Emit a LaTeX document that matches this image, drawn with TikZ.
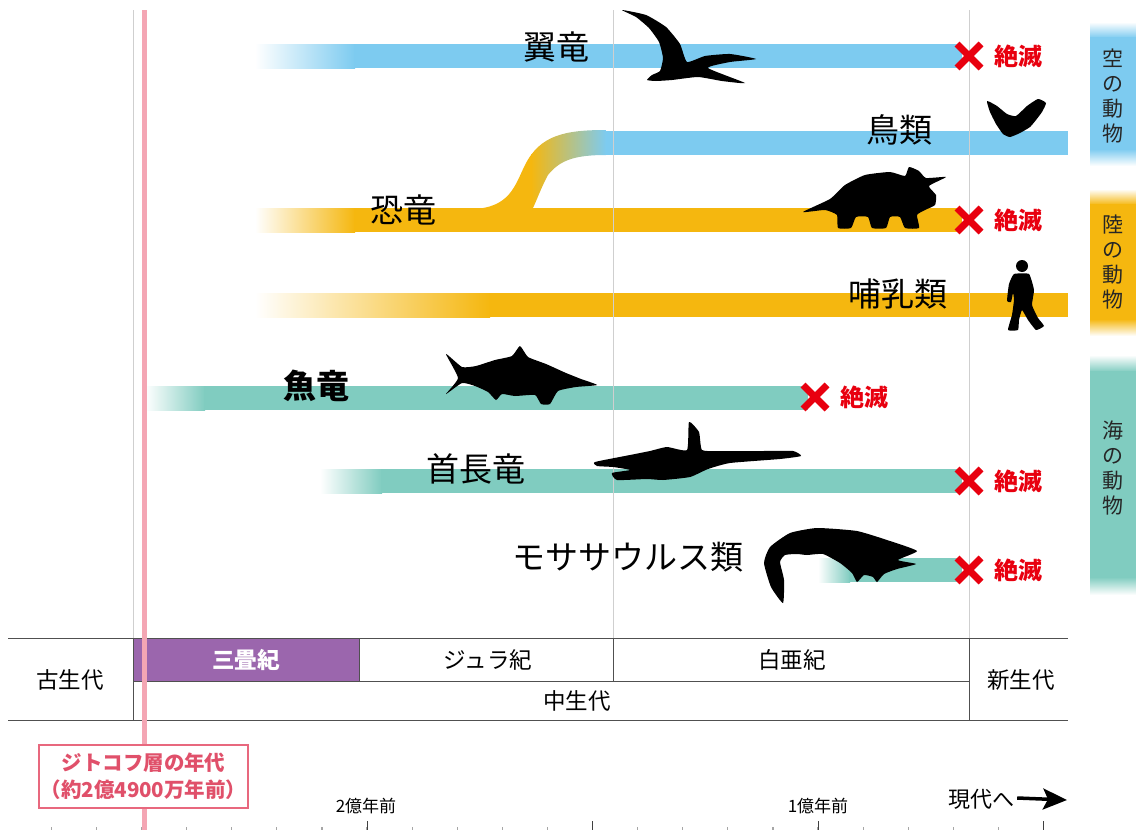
\documentclass[tikz,border=0pt]{standalone}
\usepackage{fontspec}
\setmainfont{Noto Sans CJK JP}
\usetikzlibrary{arrows.meta}
\definecolor{sky}{HTML}{7DCBF0}
\definecolor{land}{HTML}{F5B70F}
\definecolor{sea}{HTML}{80CCC0}
\definecolor{trias}{HTML}{9B66AD}
\definecolor{pinkline}{HTML}{F4A6B4}
\definecolor{pinkbox}{HTML}{E8687E}
\definecolor{pinktext}{HTML}{E0506A}
\definecolor{xred}{HTML}{E8000F}
\definecolor{guide}{HTML}{CFCFCF}
\definecolor{rule}{HTML}{505050}
\tikzset{
  big/.style={inner sep=0pt, font=\fontsize{33}{33}\selectfont},
  bigbold/.style={inner sep=0pt, font=\fontsize{33}{33}\selectfont\bfseries},
  extinct/.style={inner sep=0pt, text=xred, font=\fontsize{24}{24}\selectfont\bfseries},
  xmark/.style={xred, line width=7pt},
  cell/.style={inner sep=0pt, font=\fontsize{22.5}{22.5}\selectfont},
  side/.style={inner sep=0pt, align=center, text=black!85, font=\fontsize{21}{25}\selectfont},
  axislbl/.style={inner sep=0pt, font=\fontsize{17}{17}\selectfont},
  sil/.style={fill=black},
}
\begin{document}
\begin{tikzpicture}[x=1pt,y=-1pt]
\useasboundingbox (0,0) rectangle (1136,830);

% ---- lineage bands ----
% pterosaurs
\shade[left color=white, right color=sky] (255,44) rectangle (355,68);
\fill[sky] (354,44) rectangle (962,68);
% birds
\fill[sky] (603,131) rectangle (1068,155);
% dinosaurs
\shade[left color=white, right color=land] (255,208) rectangle (355,232);
\fill[land] (354,208) rectangle (962,232);
% branch from dinosaurs to birds
\begin{scope}
  \clip (470,209) .. controls (510,209) and (515,185) .. (525,165)
        .. controls (540,135) and (565,130) .. (606,130)
        -- (606,155) .. controls (575,155) and (560,160) .. (548,175)
        .. controls (540,190) and (537,200) .. (532,210) -- cycle;
  \fill[land] (460,120) rectangle (532,240);
  \shade[left color=land, right color=sky] (531,120) rectangle (606,240);
\end{scope}
% mammals
\shade[left color=white, right color=land] (255,293) rectangle (490,317);
\fill[land] (489,293) rectangle (1068,317);
% ichthyosaurs
\shade[left color=white, right color=sea] (145,386) rectangle (205,410);
\fill[sea] (204,386) rectangle (808,410);
% plesiosaurs
\shade[left color=white, right color=sea] (320,469) rectangle (382,493);
\fill[sea] (381,469) rectangle (962,493);
% mosasaurs
\shade[left color=white, right color=sea] (818,558) rectangle (850,582);
\fill[sea] (849,558) rectangle (962,582);

% ---- guide lines ----
\draw[guide] (133,10) -- (133,638);
\draw[guide] (613,10) -- (613,638);
\draw[guide] (969,10) -- (969,638);

% ---- category bars ----
\shade[top color=white, bottom color=sky] (1090,22) rectangle (1136,38);
\fill[sky] (1090,37) rectangle (1136,150);
\shade[top color=sky, bottom color=white] (1090,149) rectangle (1136,166);
\shade[top color=white, bottom color=land] (1090,189) rectangle (1136,205);
\fill[land] (1090,204) rectangle (1136,320);
\shade[top color=land, bottom color=white] (1090,319) rectangle (1136,336);
\shade[top color=white, bottom color=sea] (1090,355) rectangle (1136,372);
\fill[sea] (1090,371) rectangle (1136,578);
\shade[top color=sea, bottom color=white] (1090,577) rectangle (1136,595);
\node[side] (cat-sky) at (1113,96) {空\\の\\動\\物};
\node[side] (cat-land) at (1113,262) {陸\\の\\動\\物};
\node[side] (cat-sea) at (1113,468) {海\\の\\動\\物};

% ---- silhouettes ----
% pterosaur
\fill[sil] plot[smooth cycle, tension=0.3] coordinates {
  (622,10) (646,15) (666,27) (680,44) (687,62) (705,56) (730,54) (756,59)
  (730,62) (708,68) (745,83) (722,81) (698,77) (672,80) (656,81) (647,80)
  (652,75) (660,71) (663,58) (659,42) (649,28) (636,17)};
% bird
\fill[sil] plot[smooth cycle, tension=0.3] coordinates {
  (987,101) (997,106) (1007,114) (1016,116) (1027,106) (1038,99) (1046,103)
  (1042,112) (1036,120) (1030,127) (1020,133) (1010,137) (1003,134)
  (996,124) (990,112)};
% triceratops
\fill[sil] plot[smooth cycle, tension=0.3] coordinates {
  (803,212) (830,199) (845,185) (865,175) (890,172) (905,176) (909,167)
  (919,171) (926,178) (946,177) (929,186) (936,195) (935,205) (925,210)
  (917,215) (919,228) (905,228) (900,217) (890,217) (886,228) (872,228)
  (868,217) (856,217) (851,228) (838,228) (837,215) (825,210)};
% human
\fill[sil] (1022,266) circle (6);
\fill[sil] plot[smooth cycle, tension=0.25] coordinates {
  (1014,274) (1029,274) (1034,290) (1032,305) (1038,318) (1044,326)
  (1036,330) (1028,320) (1022,310) (1019,320) (1018,330) (1008,330)
  (1012,315) (1014,300) (1013,293) (1011,302) (1007,301) (1009,284)};
% ichthyosaur
\fill[sil] plot[smooth cycle, tension=0.3] coordinates {
  (446,354) (462,367) (476,366) (495,360) (512,356) (520,346) (528,357)
  (546,364) (566,373) (581,379) (597,385) (576,387) (558,391) (550,404)
  (541,404) (535,395) (515,396) (502,394) (496,400) (488,392) (475,386)
  (462,383) (446,394) (458,378)};
% plesiosaur
\fill[sil] plot[smooth cycle, tension=0.3] coordinates {
  (595,462) (630,455) (650,451) (667,447) (687,450) (689,422) (699,432)
  (702,450) (720,451) (763,451) (793,451) (801,456) (780,459) (730,463)
  (708,469) (690,477) (663,480) (647,479) (617,480) (612,473) (630,470)
  (613,467) (597,466)};
% mosasaur
\fill[sil] plot[smooth cycle, tension=0.3] coordinates {
  (917,551) (890,541) (857,531) (817,528) (790,533) (770,547) (764,563)
  (771,587) (783,603) (784,580) (780,562) (785,555) (797,554) (807,555)
  (823,554) (840,563) (852,573) (857,582) (864,575) (873,577) (877,582)
  (884,574) (897,569) (916,564) (898,560)};

% ---- lineage labels ----
\node[big] (ptero) at (556,47) {翼竜};
\node[big] (birds) at (899,130) {鳥類};
\node[big] (dino) at (403,210) {恐竜};
\node[big] (mamm) at (898,294) {哺乳類};
\node[bigbold] (ichthy) at (316,386) {魚竜};
\node[big] (plesio) at (476,469) {首長竜};
\node[big] (mosa) at (628,557) {モササウルス類};

% ---- extinction marks ----
\foreach \n/\xx/\yy in {a/969/56, b/969/220, c/815/397, d/969/481, e/969/570}{
  \coordinate (x\n) at (\xx,\yy);
  \draw[xmark] ([shift={(-12,-12)}]x\n) -- ([shift={(12,12)}]x\n);
  \draw[xmark] ([shift={(-12,12)}]x\n) -- ([shift={(12,-12)}]x\n);
  \node[extinct, anchor=west] (ext\n) at ([xshift=25pt]x\n) {絶滅};
}

% ---- era table ----
\fill[trias] (133,638) rectangle (359,681);
\draw[rule] (8,638) -- (1068,638);
\draw[rule] (8,720) -- (1068,720);
\draw[rule] (133,681) -- (969,681);
\draw[rule] (133,638) -- (133,720);
\draw[rule] (969,638) -- (969,720);
\draw[rule] (359,638) -- (359,681);
\draw[rule] (613,638) -- (613,681);
\node[cell] (paleo) at (70,680) {古生代};
\node[cell, text=white, font=\fontsize{22.5}{22.5}\selectfont\bfseries] (trias) at (246,660) {三畳紀};
\node[cell] (jura) at (488,660) {ジュラ紀};
\node[cell] (creta) at (792,660) {白亜紀};
\node[cell] (meso) at (577,701) {中生代};
\node[cell] (ceno) at (1021,680) {新生代};

% ---- time axis ----
\foreach \i in {-7,...,15}{
  \fill[black!35] ({367+45.1*\i-0.6},827) rectangle ({367+45.1*\i+0.6},830);
}
\foreach \i in {0,5,10,15}{
  \draw[black!75, line width=0.8pt] ({367+45.1*\i},821) -- ({367+45.1*\i},830);
}
\node[axislbl] (t200) at (366,806) {2億年前};
\node[axislbl] (t100) at (818,806) {1億年前};
\node[inner sep=0pt, font=\fontsize{22}{22}\selectfont] (now) at (981,799) {現代へ};
\coordinate (nowend) at (1067,800);
\draw[line width=3.5pt, -{Stealth[length=24pt,width=21pt,inset=5pt]}] ([xshift=3pt,yshift=1pt]now.east) -- (nowend);

% ---- Zhitkov layer marker ----
\draw[pinkline, line width=5pt] (144,10) -- (144,830);
\node[draw=pinkbox, line width=1.6pt, fill=white, minimum width=209pt, minimum height=63pt,
      inner sep=0pt, align=center, text=pinktext,
      font=\fontsize{20.5}{27}\selectfont\bfseries] (zhitkov) at (143.5,776.5)
  {ジトコフ層の年代\\（約2億4900万年前）};
\end{tikzpicture}
\end{document}
